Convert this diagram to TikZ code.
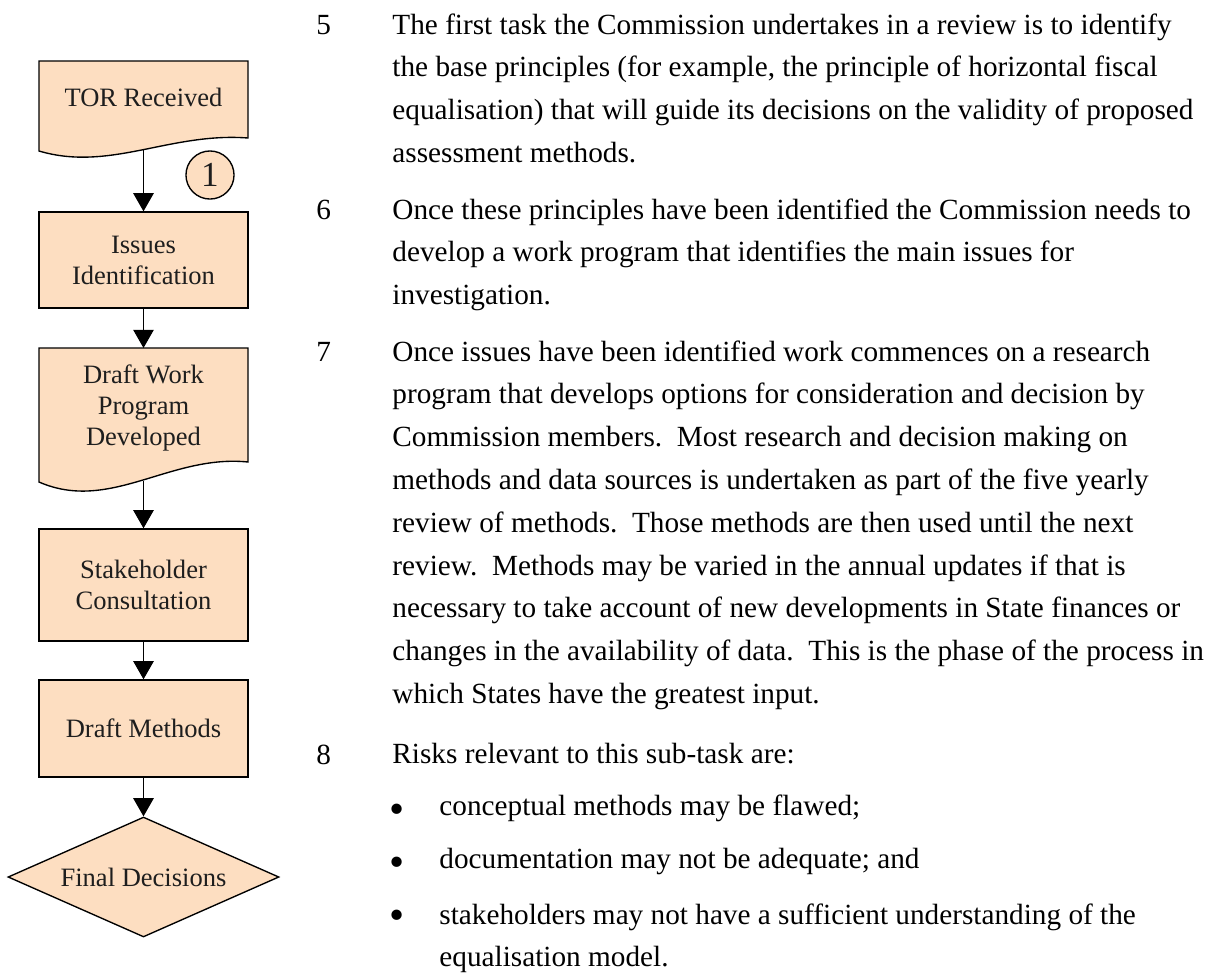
\documentclass[tikz,border=0pt]{standalone}
\usepackage{fontspec}
\setmainfont{Liberation Serif}
\usetikzlibrary{shapes.geometric, arrows.meta}
\definecolor{flowpeach}{RGB}{253, 222, 193}
\definecolor{flowink}{RGB}{30, 30, 30}

\tikzset{
  flowbox/.style={draw=black, line width=0.6pt, fill=flowpeach, text=flowink, align=center,
    minimum width=92.2pt, inner sep=0pt, font=\fontsize{11.7}{13.7}\selectfont},
  flowtext/.style={text=flowink, align=center, inner sep=0pt, font=\fontsize{11.7}{13.7}\selectfont},
  flowarrow/.style={line width=0.5pt, -{Triangle[width=9pt, length=8pt]}},
  paratext/.style={anchor=north west, align=left, inner sep=0pt, font=\fontsize{12.9}{18.87}\selectfont},
  numtext/.style={anchor=base west, inner sep=0pt, font=\fontsize{12.9}{18.87}\selectfont},
  bulletmark/.style={anchor=center, inner sep=0pt, font=\fontsize{19}{19}\selectfont},
}

\begin{document}
\begin{tikzpicture}[x=0.441pt, y=-0.441pt]
\useasboundingbox (0,0) rectangle (1216,972);

% Flowchart - document shapes
\draw[line width=0.6pt, fill=flowpeach] (39,61) -- (248,61) -- (248,138)
  .. controls (170,132) and (110,172) .. (39,151) -- cycle;
\node[flowtext] (tor) at (143.5,97) {TOR Received};
\coordinate (torend) at (143.5,150);

\node[flowbox, minimum height=42.3pt] (issues) at (143.5,260) {Issues\\Identification};

\draw[line width=0.6pt, fill=flowpeach] (39,348) -- (248,348) -- (248,462)
  .. controls (170,454) and (110,513) .. (39,482) -- cycle;
\node[flowtext] (draftwp) at (143.5,408) {Draft Work\\Program\\Developed};
\coordinate (draftend) at (143.5,480.5);

\node[flowbox, minimum height=49.4pt] (stake) at (143.5,585) {Stakeholder\\Consultation};
\node[flowbox, minimum height=42.8pt] (draftm) at (143.5,728.5) {Draft Methods};
\node[flowbox, diamond, aspect=2.26, minimum width=119.5pt, minimum height=52.9pt] (final) at (143.5,877) {Final Decisions};

% Step marker
\node[draw=black, line width=0.6pt, fill=flowpeach, circle, minimum size=21.2pt, inner sep=0pt,
  text=flowink, font=\fontsize{15.5}{15.5}\selectfont] (stepone) at (210,175) {1};

% Arrows
\draw[flowarrow] (torend) -- (issues.north);
\draw[flowarrow] (issues.south) -- (draftwp.north |- 0,348);
\draw[flowarrow] (draftend) -- (stake.north);
\draw[flowarrow] (stake.south) -- (draftm.north);
\draw[flowarrow] (draftm.south) -- (final.north);

% Right side - paragraphs
\node[numtext] (n5) at (316,34) {5};
\node[paratext] (p5) at (392,13.1) {The first task the Commission undertakes in a review is to identify\\
the base principles (for example, the principle of horizontal fiscal\\
equalisation) that will guide its decisions on the validity of proposed\\
assessment methods.};

\node[numtext] (n6) at (316,219) {6};
\node[paratext] (p6) at (392,198.1) {Once these principles have been identified the Commission needs to\\
develop a work program that identifies the main issues for\\
investigation.};

\node[numtext] (n7) at (316,361) {7};
\node[paratext] (p7) at (392,340.1) {Once issues have been identified work commences on a research\\
program that develops options for consideration and decision by\\
Commission members.\ \ Most research and decision making on\\
methods and data sources is undertaken as part of the five yearly\\
review of methods.\ \ Those methods are then used until the next\\
review.\ \ Methods may be varied in the annual updates if that is\\
necessary to take account of new developments in State finances or\\
changes in the availability of data.\ \ This is the phase of the process in\\
which States have the greatest input.};

\node[numtext] (n8) at (316,764) {8};
\node[paratext] (p8) at (392,743.1) {Risks relevant to this sub-task are:};

% Bullets
\node[bulletmark] (b1) at (397,814) {\textbullet};
\node[numtext] (i1) at (439,815) {conceptual methods may be flawed;};
\node[bulletmark] (b2) at (397,867) {\textbullet};
\node[numtext] (i2) at (439,868) {documentation may not be adequate; and};
\node[bulletmark] (b3) at (397,920) {\textbullet};
\node[paratext] (i3) at (439,903.1) {stakeholders may not have a sufficient understanding of the\\
equalisation model.};
\end{tikzpicture}
\end{document}
